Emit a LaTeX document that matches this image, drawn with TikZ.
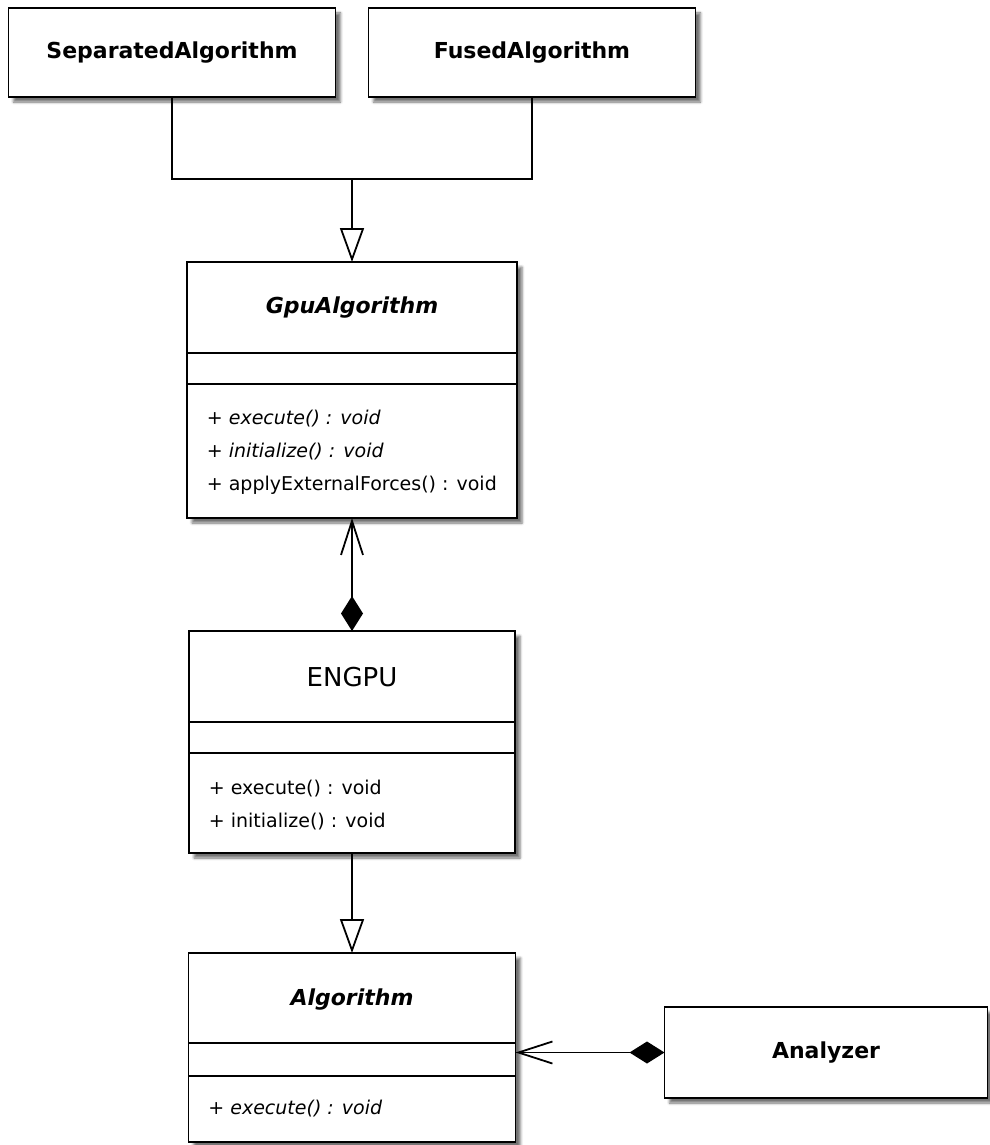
\documentclass[tikz,border=0pt]{standalone}
\usepackage{fontspec}
\setmainfont{DejaVu Sans}
\usetikzlibrary{positioning,arrows.meta,shadows.blur}

\tikzset{
  cls/.style={draw, fill=white, inner sep=0pt, outer sep=0pt,
    blur shadow={shadow xshift=5pt, shadow yshift=-5pt,
      shadow blur radius=2.5pt, shadow opacity=55}},
  cname/.style={font=\bfseries\fontsize{22}{26}\selectfont, inner sep=0pt},
  ops/.style={font=\fontsize{19}{33}\selectfont, align=left, anchor=west, inner sep=0pt},
  inherit/.style={-{Triangle[open,length=34pt,width=24pt]}},
  comp/.style={{Diamond[length=35pt,width=22pt]}-{Straight Barb[length=34pt,width=22pt]}}
}

\begin{document}
\begin{tikzpicture}[x=1pt, y=1pt, line width=1.8pt]
      \useasboundingbox (0,0) rectangle (989,-1145);

      \node [cls, cname, minimum width=327pt, minimum height=89pt] (sep) at (172,-52.5) {SeparatedAlgorithm};
      \node [cls, cname, minimum width=327pt, minimum height=89pt, right=33pt of sep] (fused) {FusedAlgorithm};
      \coordinate (fork) at (352,-178.5);

      \node [cls, minimum width=330pt, minimum height=256pt, below=83.5pt of fork] (gpu) {};
      \node [cls, minimum width=326pt, minimum height=222pt, below=113pt of gpu] (engpu) {};
      \node [cls, minimum width=327pt, minimum height=189pt, below=100pt of engpu] (algo) {};
      \node [cls, cname, minimum width=323pt, minimum height=91pt, right=149pt of algo, yshift=-5pt] (analyzer) {Analyzer};

      % compartments
      \draw ([yshift=-91pt]gpu.north west) -- ([yshift=-91pt]gpu.north east);
      \draw ([yshift=-122pt]gpu.north west) -- ([yshift=-122pt]gpu.north east);
      \draw ([yshift=-91pt]engpu.north west) -- ([yshift=-91pt]engpu.north east);
      \draw ([yshift=-122pt]engpu.north west) -- ([yshift=-122pt]engpu.north east);
      \draw ([yshift=-90pt]algo.north west) -- ([yshift=-90pt]algo.north east);
      \draw ([yshift=-123pt]algo.north west) -- ([yshift=-123pt]algo.north east);

      \node [cname] (gpu-name) at ([yshift=-46pt]gpu.north) {\itshape GpuAlgorithm};
      \node [ops] (gpu-ops) at ([xshift=19pt,yshift=-190pt]gpu.north west)
        {+ \textit{execute() : void}\\+ \textit{initialize() : void}\\+ applyExternalForces() : void};

      \node [cname, font=\fontsize{26}{30}\selectfont] (engpu-name) at ([yshift=-46pt]engpu.north) {ENGPU};
      \node [ops] (engpu-ops) at ([xshift=19pt,yshift=-174pt]engpu.north west)
        {+ execute() : void\\+ initialize() : void};

      \node [cname] (algo-name) at ([yshift=-47pt]algo.north) {\itshape Algorithm};
      \node [ops] (algo-ops) at ([xshift=19pt,yshift=-156pt]algo.north west)
        {+ \textit{execute() : void}};

      \draw[line width=2pt] (sep.south) |- (fork) -| (fused.south);
      \draw[inherit] (fork) -- (gpu.north);
      \draw[comp] (engpu.north) -- (gpu.south);
      \draw[inherit] (engpu.south) -- (algo.north);
      \draw[comp] (analyzer.west) -- (analyzer.west -| algo.east);
    \end{tikzpicture}
\end{document}
